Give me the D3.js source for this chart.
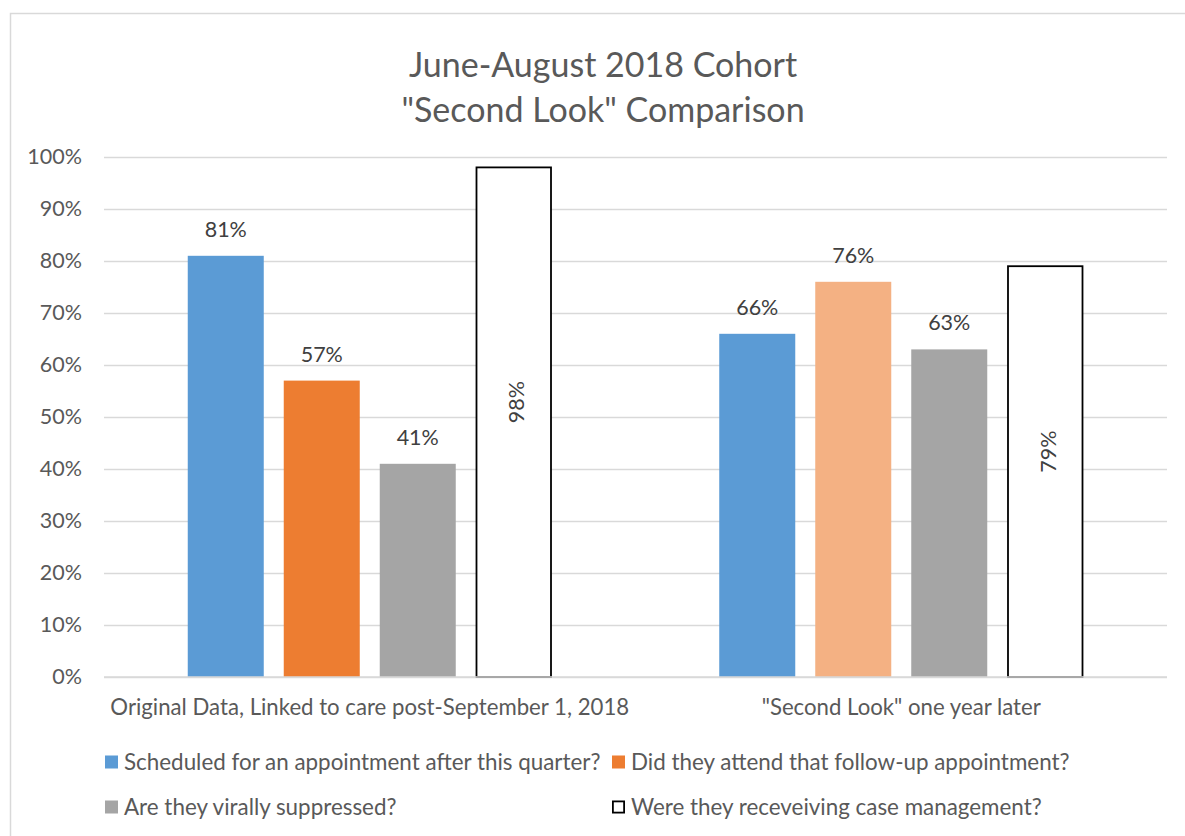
<!DOCTYPE html>
<html>
<head>
<meta charset="utf-8">
<script src="https://cdn.jsdelivr.net/npm/d3@7"></script>
<style>
  html, body { margin: 0; padding: 0; background: #fff; }
  svg { display: block; }
  text { font-family: Lato, "Open Sans", sans-serif; }
</style>
</head>
<body>
<svg id="chart" width="1185" height="836"></svg>
<script>
// ---- data ----
const categories = [
  "Original Data, Linked to care post-September 1, 2018",
  "\"Second Look\" one year later"
];
const seriesNames = [
  "Scheduled for an appointment after this quarter?",
  "Did they attend that follow-up appointment?",
  "Are they virally suppressed?",
  "Were they receveiving case management?"
];
const scheduled  = [81, 66];
const attended   = [57, 76];
const suppressed = [41, 63];
const caseMgmt   = [98, 79];
const yTicks = [0, 10, 20, 30, 40, 50, 60, 70, 80, 90, 100];
const titleLines = ["June-August 2018 Cohort", "\"Second Look\" Comparison"];

// ---- styles ----
const seriesFill = ["#5B9BD5", "#ED7D31", "#A5A5A5", "#FFFFFF"];
// the second-look "attended" bar is drawn in a lighter orange
const pointFill = { "1-1": "#F4B183" };
const outlined = [false, false, false, true];
const rotatedLabel = [false, false, false, true];
const gridColor = "#D9D9D9";
const axisText = "#595959";
const labelText = "#404040";

const seriesValues = [scheduled, attended, suppressed, caseMgmt];
const svg = d3.select("#chart");

// chart frame
svg.append("rect")
  .attr("x", 10.5).attr("y", 13.5)
  .attr("width", 1200).attr("height", 900)
  .attr("fill", "#fff").attr("stroke", gridColor).attr("stroke-width", 1.5);

// scales
const plot = { left: 104, right: 1167, top: 157, bottom: 677 };
const y = d3.scaleLinear().domain([0, 100]).range([plot.bottom, plot.top]);
const x0 = d3.scaleBand().domain(categories).range([plot.left, plot.right]).padding(0);
const groupW = 364;
const x1 = d3.scaleBand().domain(d3.range(seriesNames.length))
  .range([0, groupW]).paddingInner(0.2083).paddingOuter(0);
const groupX = c => x0(c) + (x0.bandwidth() - groupW) / 2;

// title
svg.append("g").selectAll("text").data(titleLines).join("text")
  .attr("x", 603).attr("y", (d, i) => 77 + i * 45)
  .attr("text-anchor", "middle")
  .attr("font-size", 34).attr("fill", axisText)
  .text(d => d);

// gridlines + y axis labels
const yAxis = d3.axisLeft(y).tickValues(yTicks)
  .tickSize(-(plot.right - plot.left)).tickFormat(d => d + "%").tickPadding(22);
const gy = svg.append("g").attr("transform", `translate(${plot.left},0)`).call(yAxis);
gy.select(".domain").remove();
gy.selectAll(".tick line").attr("stroke", gridColor).attr("stroke-width", 1.5);
gy.selectAll(".tick text").attr("font-size", 21.5).attr("fill", axisText)
  .attr("font-family", "Lato, sans-serif");

// bars
const flat = [];
categories.forEach((c, ci) => {
  seriesValues.forEach((vals, si) => flat.push({ c, ci, si, v: vals[ci] }));
});

const bars = svg.append("g");
bars.selectAll("rect").data(flat).join("rect")
  .attr("x", d => groupX(d.c) + x1(d.si) + (outlined[d.si] ? 0.75 : 0))
  .attr("width", d => x1.bandwidth() - (outlined[d.si] ? 1.5 : 0))
  .attr("y", d => y(d.v))
  .attr("height", d => y(0) - y(d.v))
  .attr("fill", d => pointFill[`${d.ci}-${d.si}`] || seriesFill[d.si])
  .attr("stroke", d => outlined[d.si] ? "#000" : "none")
  .attr("stroke-width", 1.8);

// x axis line on top of bars
svg.append("line")
  .attr("x1", plot.left).attr("x2", plot.right)
  .attr("y1", y(0)).attr("y2", y(0))
  .attr("stroke", gridColor).attr("stroke-width", 1.5);

// data labels
const fs = 21.5;
const labels = svg.append("g").attr("fill", labelText).attr("font-size", fs);
labels.selectAll("text.top").data(flat.filter(d => !rotatedLabel[d.si])).join("text")
  .attr("class", "top")
  .attr("x", d => groupX(d.c) + x1(d.si) + x1.bandwidth() / 2)
  .attr("y", d => y(d.v) - 19)
  .attr("text-anchor", "middle")
  .text(d => d.v + "%");
labels.selectAll("text.rot").data(flat.filter(d => rotatedLabel[d.si])).join("text")
  .attr("class", "rot")
  .attr("transform", d => {
    const cx = groupX(d.c) + x1(d.si) + x1.bandwidth() / 2 + 3 + fs * 0.36;
    const cy = (y(d.v) + y(0)) / 2 - 20;
    return `translate(${cx},${cy}) rotate(-90)`;
  })
  .attr("text-anchor", "middle")
  .text(d => d.v + "%");

// category labels
svg.append("g").selectAll("text").data(categories).join("text")
  .attr("x", d => x0(d) + x0.bandwidth() / 2)
  .attr("y", 715)
  .attr("text-anchor", "middle")
  .attr("font-size", 22.2).attr("fill", axisText)
  .text(d => d);

// legend
const legendPos = [[105, 762], [612, 762], [105, 807], [612, 807]];
const lg = svg.append("g").selectAll("g").data(seriesNames).join("g")
  .attr("transform", (d, i) => `translate(${legendPos[i][0]},${legendPos[i][1]})`);
lg.append("rect")
  .attr("x", (d, i) => outlined[i] ? 0.9 : 0)
  .attr("y", (d, i) => -6.5 + (outlined[i] ? 0.9 : 0))
  .attr("width", (d, i) => 13 - (outlined[i] ? 1.8 : 0))
  .attr("height", (d, i) => 13 - (outlined[i] ? 1.8 : 0))
  .attr("fill", (d, i) => seriesFill[i])
  .attr("stroke", (d, i) => outlined[i] ? "#000" : "none")
  .attr("stroke-width", 1.8);
lg.append("text")
  .attr("x", 19).attr("y", 7.8)
  .attr("font-size", 22.4).attr("fill", axisText)
  .text(d => d);
</script>
</body>
</html>
